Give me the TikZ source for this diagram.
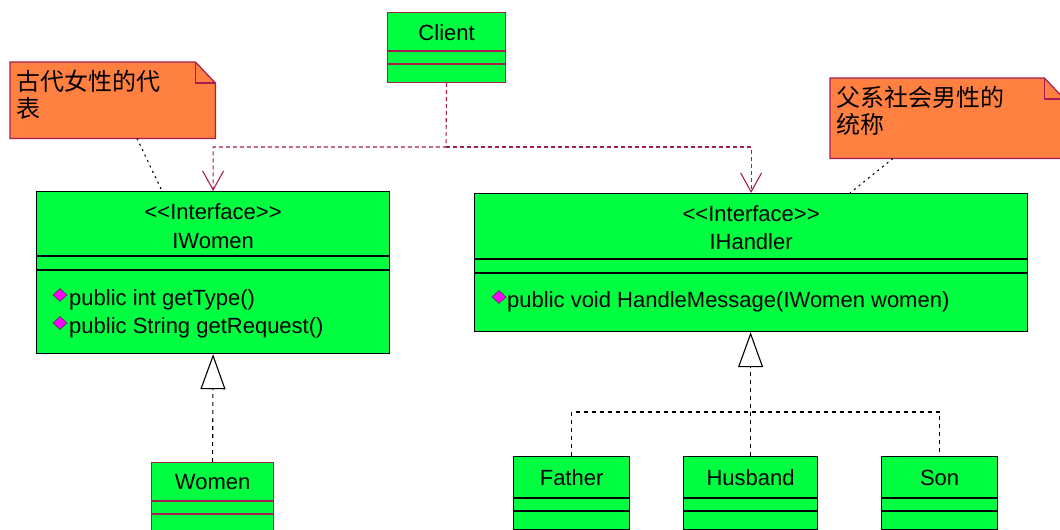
\documentclass[tikz,border=0pt]{standalone}
\usepackage{fontspec}
\setmainfont{Liberation Sans}
\newfontfamily\cjkfont{Noto Sans CJK SC}
\usetikzlibrary{shapes.geometric, arrows.meta}

\definecolor{classgreen}{RGB}{0,255,64}
\definecolor{noteorange}{RGB}{255,128,64}
\definecolor{roseline}{RGB}{165,30,80}
\definecolor{opmagenta}{RGB}{255,0,255}

\tikzstyle{classbox} = [
    rectangle,
    anchor=north west,
    inner sep=0pt,
    fill=classgreen,
    draw=black,
    line width=1.2pt
]
\tikzstyle{roseclass} = [
    classbox,
    draw=roseline
]
\tikzstyle{classtext} = [
    inner sep=0pt,
    font=\fontsize{22}{26}\selectfont
]
\tikzstyle{optext} = [
    classtext,
    anchor=west
]
\tikzstyle{opdiamond} = [
    diamond,
    inner sep=0pt,
    minimum width=14pt,
    minimum height=13pt,
    fill=opmagenta,
    draw=black!75,
    line width=0.6pt
]
\tikzstyle{notebox} = [
    rectangle,
    anchor=north west,
    inner sep=0pt
]
\tikzstyle{notefill} = [
    fill=noteorange,
    draw=roseline,
    line width=1.2pt
]
\tikzstyle{notetext} = [
    anchor=north west,
    align=left,
    inner sep=0pt,
    font=\cjkfont\fontsize{24}{27}\selectfont
]
\tikzstyle{divider} = [line width=1.2pt]
\tikzstyle{depend} = [
    roseline,
    line width=1.1pt,
    dash pattern=on 4pt off 3pt,
    -{Straight Barb[length=19pt,width=21pt]}
]
\tikzstyle{realize} = [
    black,
    line width=1.1pt,
    dash pattern=on 4pt off 4pt
]
\tikzstyle{realizearrow} = [
    realize,
    -{Triangle[length=35pt,width=25pt,fill=white]}
]
\tikzstyle{noteline} = [
    black,
    line width=1.1pt,
    dash pattern=on 2pt off 4pt
]

\newcommand{\stereo}{\textless\kern0pt\textless Interface\textgreater\kern0pt\textgreater}

\begin{document}
\begin{tikzpicture}[x=1pt, y=-1pt]

\clip (0,0) rectangle (1060,530);
\fill[white] (0,0) rectangle (1060,530);

% notes
\node (womennote) [notebox, minimum width=205pt, minimum height=76pt] at (10,62) {};
\filldraw[notefill] (womennote.north west) -- ([xshift=-20pt]womennote.north east)
    -- ([yshift=-21pt]womennote.north east) -- (womennote.south east)
    -- (womennote.south west) -- cycle;
\draw[notefill, fill=none] ([xshift=-20pt]womennote.north east) |- ([yshift=-21pt]womennote.north east);
\node (womennotetext) [notetext] at ([xshift=6pt, yshift=-8pt]womennote.north west)
{古代女性的代\\表};

\node (handlernote) [notebox, minimum width=234pt, minimum height=80pt] at (830,78) {};
\filldraw[notefill] (handlernote.north west) -- ([xshift=-20pt]handlernote.north east)
    -- ([yshift=-21pt]handlernote.north east) -- (handlernote.south east)
    -- (handlernote.south west) -- cycle;
\draw[notefill, fill=none] ([xshift=-20pt]handlernote.north east) |- ([yshift=-21pt]handlernote.north east);
\node (handlernotetext) [notetext] at ([xshift=6pt, yshift=-8pt]handlernote.north west)
{父系社会男性的\\统称};

% Client
\node (client) [roseclass, minimum width=118pt, minimum height=70pt] at (387,12) {};
\node (clientname) [classtext] at ([yshift=-21pt]client.north) {Client};
\draw[divider, roseline] (client.west |- 0,51) -- (client.east |- 0,51);
\draw[divider, roseline] (client.west |- 0,64) -- (client.east |- 0,64);

% IWomen
\node (iwomen) [classbox, minimum width=353pt, minimum height=162pt] at (36,191) {};
\node (iwomenstereo) [classtext] at ([yshift=-21pt]iwomen.north) {\stereo};
\node (iwomenname) [classtext] at ([yshift=-50pt]iwomen.north) {IWomen};
\draw[divider] (iwomen.west |- 0,256) -- (iwomen.east |- 0,256);
\draw[divider] (iwomen.west |- 0,270) -- (iwomen.east |- 0,270);
\node (gettypemark) [opdiamond] at (60,295) {};
\node (gettype) [optext] at (69,300) {public int getType()};
\node (getrequestmark) [opdiamond] at (60,323) {};
\node (getrequest) [optext] at (69,328) {public String getRequest()};

% IHandler
\node (ihandler) [classbox, minimum width=553pt, minimum height=138pt] at (474,193) {};
\node (ihandlerstereo) [classtext] at ([yshift=-21pt]ihandler.north) {\stereo};
\node (ihandlername) [classtext] at ([yshift=-49pt]ihandler.north) {IHandler};
\draw[divider] (ihandler.west |- 0,259) -- (ihandler.east |- 0,259);
\draw[divider] (ihandler.west |- 0,273) -- (ihandler.east |- 0,273);
\node (handlemark) [opdiamond] at (499,297) {};
\node (handlemessage) [optext] at (507,302) {public void HandleMessage(IWomen women)};

% Women
\node (women) [roseclass, minimum width=122pt, minimum height=80pt] at (151,462) {};
\node (womenname) [classtext] at ([yshift=-20pt]women.north) {Women};
\draw[divider, roseline] (women.west |- 0,501) -- (women.east |- 0,501);
\draw[divider, roseline] (women.west |- 0,514) -- (women.east |- 0,514);

% Father, Husband, Son
\node (father) [classbox, minimum width=116pt, minimum height=73pt] at (513,456) {};
\node (fathername) [classtext] at ([yshift=-22pt]father.north) {Father};
\draw[divider] (father.west |- 0,498) -- (father.east |- 0,498);
\draw[divider] (father.west |- 0,511) -- (father.east |- 0,511);

\node (husband) [classbox, minimum width=134pt, minimum height=73pt] at (683,456) {};
\node (husbandname) [classtext] at ([yshift=-22pt]husband.north) {Husband};
\draw[divider] (husband.west |- 0,498) -- (husband.east |- 0,498);
\draw[divider] (husband.west |- 0,511) -- (husband.east |- 0,511);

\node (son) [classbox, minimum width=116pt, minimum height=73pt] at (881,456) {};
\node (sonname) [classtext] at ([yshift=-22pt]son.north) {Son};
\draw[divider] (son.west |- 0,498) -- (son.east |- 0,498);
\draw[divider] (son.west |- 0,511) -- (son.east |- 0,511);

% connectors
\coordinate (clientjoin) at (446,147);
\draw[depend] (client.south) -- (clientjoin) -| (iwomen.north);
\draw[depend] (clientjoin) -| (ihandler.north);

\draw[noteline] (womennote.south -| 137,0) -- (iwomen.north -| 162,0);
\draw[noteline] (handlernote.south -| 893,0) -- (ihandler.north -| 850,0);

\draw[realizearrow] (women.north) -- (iwomen.south);

\coordinate (handlerjoin) at (750,412);
\draw[realize] (father.north) |- (handlerjoin) -| (son.north);
\draw[realizearrow] (husband.north) -- (husband.north |- ihandler.south);

\end{tikzpicture}
\end{document}
